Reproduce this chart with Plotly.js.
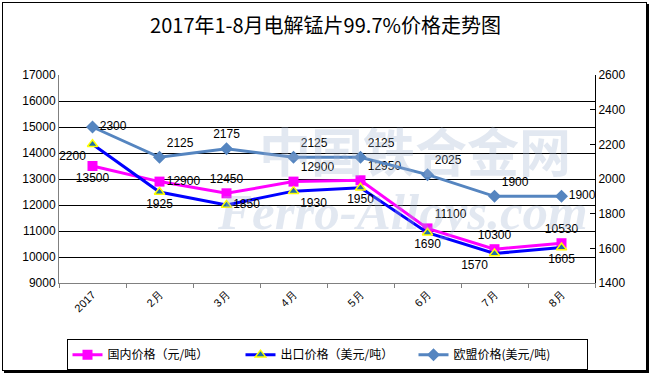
<!DOCTYPE html>
<html>
<head>
<meta charset="utf-8">
<script src="https://cdn.plot.ly/plotly-3.0.1.min.js"></script>
<style>
html,body{margin:0;padding:0;background:#fff;}
#frame{position:absolute;left:2px;top:2px;width:643px;height:367px;border:1px solid #000;box-shadow:2px 2px 0 #000;}
#chart{position:absolute;left:0;top:0;width:651px;height:376px;}
</style>
</head>
<body>
<div id="frame"></div>
<div id="chart"></div>
<script>
const categories = ['2017', '2月', '3月', '4月', '5月', '6月', '7月', '8月'];
const domestic = [13500, 12900, 12450, 12900, 12950, 11100, 10300, 10530];
const exportPrice = [2200, 1925, 1850, 1930, 1950, 1690, 1570, 1605];
const euPrice = [2300, 2125, 2175, 2125, 2125, 2025, 1900, 1900];
const seriesNames = ['国内价格（元/吨）', '出口价格（美元/吨）', '欧盟价格(美元/吨)'];
const watermarkCn = '中国铁合金网';
const watermarkEn = 'Ferro-Alloys.com';

const domesticPos = ['bottom center','middle right','top center','top right','top right','top right','top center','top center'];
const exportPos = ['bottom left','bottom center','middle right','bottom right','bottom center','bottom center','bottom left','bottom center'];
const euPos = ['middle right','top right','top center','top right','top right','top right','top right','middle right'];

const labelFont = {family: 'Liberation Sans, Arial, sans-serif', size: 12, color: '#000'};

const traces = [
  {
    x: categories, y: domestic, name: seriesNames[0], type: 'scatter', mode: 'lines+markers+text',
    line: {color: '#FF00FF', width: 3},
    marker: {symbol: 'square', size: 10, color: '#FF00FF'},
    text: domestic.map(String), textposition: domesticPos, textfont: labelFont,
    yaxis: 'y', cliponaxis: false
  },
  {
    x: categories, y: exportPrice, name: seriesNames[1], type: 'scatter', mode: 'lines+markers+text',
    line: {color: '#0000FF', width: 3},
    marker: {symbol: 'triangle-up', size: 9, color: '#1F6FA8', line: {color: '#FFFF00', width: 1.5}},
    text: exportPrice.map(String), textposition: exportPos, textfont: labelFont,
    yaxis: 'y2', cliponaxis: false
  },
  {
    x: categories, y: euPrice, name: seriesNames[2], type: 'scatter', mode: 'lines+markers+text',
    line: {color: '#5585C0', width: 3},
    marker: {symbol: 'diamond', size: 10, color: '#5585C0'},
    text: euPrice.map(String), textposition: euPos, textfont: labelFont,
    yaxis: 'y2', cliponaxis: false
  }
];

const layout = {
  width: 651, height: 376,
  paper_bgcolor: 'rgba(0,0,0,0)', plot_bgcolor: 'rgba(0,0,0,0)',
  margin: {l: 59, r: 56, t: 75, b: 93, autoexpand: false},
  title: {
    text: '2017年1-8月电解锰片99.7%价格走势图',
    font: {family: 'Noto Sans CJK SC, sans-serif', size: 20, color: '#000'},
    x: 0.5, xanchor: 'center', y: 0.93, yanchor: 'middle'
  },
  showlegend: true,
  legend: {
    orientation: 'h', x: 0.5, xanchor: 'center', y: -0.27, yanchor: 'top',
    bordercolor: '#000', borderwidth: 1, bgcolor: '#fff',
    font: {family: 'Noto Sans CJK SC, sans-serif', size: 12, color: '#000'},
    entrywidth: 128, itemwidth: 30, tracegroupgap: 0
  },
  xaxis: {
    type: 'category', range: [-0.5, 7.5], tickson: 'boundaries', automargin: false,
    ticks: 'outside', ticklen: 4, tickcolor: '#808080',
    showline: true, linecolor: '#808080', linewidth: 1, mirror: false,
    showgrid: false, tickangle: -45,
    tickfont: {family: 'Liberation Sans, Arial, sans-serif', size: 11, color: '#000'}
  },
  yaxis: {
    range: [9000, 17000], dtick: 1000, tick0: 9000, tickformat: 'd', automargin: false,
    showgrid: true, gridcolor: '#000', gridwidth: 1,
    showline: true, linecolor: '#808080', mirror: true,
    ticks: '', zeroline: false,
    tickfont: {family: 'Liberation Sans, Arial, sans-serif', size: 12, color: '#000'}
  },
  yaxis2: {
    range: [1400, 2600], dtick: 200, tick0: 1400, tickformat: 'd', automargin: false,
    overlaying: 'y', side: 'right', showgrid: false, zeroline: false,
    showline: true, linecolor: '#000', ticks: 'inside', ticklen: 5, tickcolor: '#000',
    tickfont: {family: 'Liberation Sans, Arial, sans-serif', size: 12, color: '#000'}
  },
  annotations: [
    {text: '<b>' + watermarkCn + '</b>', xref: 'paper', yref: 'paper', x: 0.665, y: 0.64,
     xanchor: 'center', yanchor: 'middle', showarrow: false,
     font: {family: 'Noto Sans CJK SC, sans-serif', size: 52, color: 'rgba(160,180,210,0.30)'}},
    {text: '<b><i>' + watermarkEn + '</i></b>', xref: 'paper', yref: 'paper', x: 0.64, y: 0.34,
     xanchor: 'center', yanchor: 'middle', showarrow: false,
     font: {family: 'Liberation Serif, serif', size: 51, color: 'rgba(160,180,210,0.30)'}}
  ]
};

Plotly.newPlot('chart', traces, layout, {displayModeBar: false, staticPlot: true});
</script>
</body>
</html>
